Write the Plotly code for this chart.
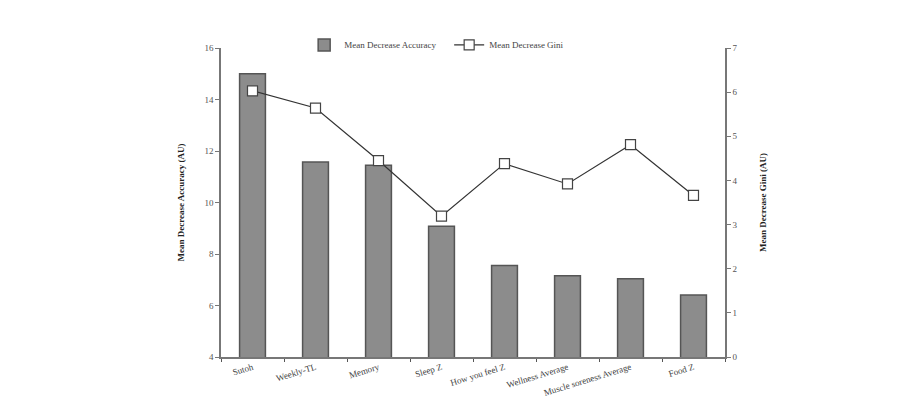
import plotly.graph_objects as go

categories = ["Sutoh", "Weekly-TL", "Memory", "Sleep Z", "How you feel Z",
              "Wellness Average", "Muscle soreness Average", "Food Z"]
mda = [15.0, 11.57, 11.45, 9.08, 7.55, 7.16, 7.04, 6.41]
gini = [6.03, 5.64, 4.45, 3.19, 4.38, 3.92, 4.81, 3.66]
left_ticks = [4, 6, 8, 10, 12, 14, 16]
right_ticks = [0, 1, 2, 3, 4, 5, 6, 7]

font_family = "Liberation Serif"

fig = go.Figure()
fig.add_trace(go.Bar(
    x=categories, y=mda, name="Mean Decrease Accuracy",
    marker=dict(color="#8c8c8c", line=dict(color="#555555", width=1.5)),
    width=0.41, yaxis="y",
))
fig.add_trace(go.Scatter(
    x=categories, y=gini, name="Mean Decrease Gini", mode="lines+markers",
    line=dict(color="#333333", width=1.2),
    marker=dict(symbol="square", size=10, color="white",
                line=dict(color="#444444", width=1.2)),
    yaxis="y2",
))

fig.update_layout(
    width=905, height=410,
    margin=dict(l=221, r=180, t=48, b=53),
    paper_bgcolor="white", plot_bgcolor="white",
    font=dict(family=font_family, size=9, color="#333333"),
    showlegend=True,
    legend=dict(orientation="h", x=0.165, y=1.01, xanchor="left", yanchor="middle",
                font=dict(size=9, color="#444444"), bgcolor="rgba(0,0,0,0)",
                entrywidth=100, entrywidthmode="pixels"),
    xaxis=dict(
        showline=True, linecolor="#777777", linewidth=1.5,
        tickangle=-17, tickfont=dict(size=9, color="#444444"),
        showgrid=False, zeroline=False,
        ticks="outside", ticklen=3, tickcolor="#555555", tickson="boundaries",
    ),
    yaxis=dict(
        range=[4, 16], tickvals=left_ticks, showline=True, linecolor="#777777",
        linewidth=1.5, ticks="outside", ticklen=4, tickcolor="#777777",
        showgrid=False, zeroline=False, tickfont=dict(size=9, color="#555555"),
        title=dict(text="<b>Mean Decrease Accuracy (AU)</b>",
                   font=dict(size=9, color="#222222"), standoff=18),
    ),
    yaxis2=dict(
        range=[0, 7], tickvals=right_ticks, overlaying="y", side="right",
        showline=True, linecolor="#777777", linewidth=1.5, ticks="outside",
        ticklen=4, tickcolor="#777777", showgrid=False, zeroline=False,
        tickfont=dict(size=9, color="#555555"),
        title=dict(text="<b>Mean Decrease Gini (AU)</b>",
                   font=dict(size=9, color="#222222"), standoff=23),
    ),
)

fig.write_html("out.html")
